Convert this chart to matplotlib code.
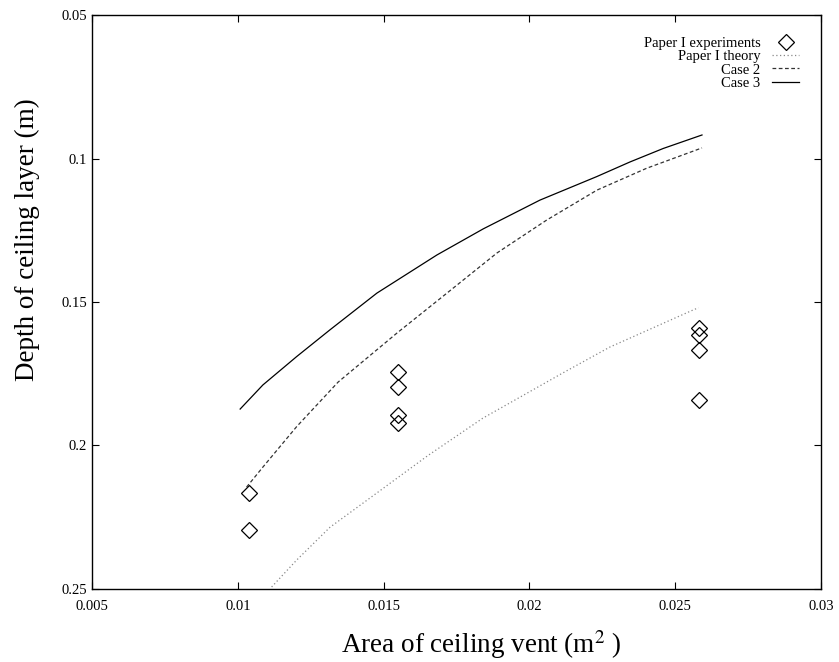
import matplotlib
matplotlib.use("Agg")
import matplotlib.pyplot as plt

# Paper I experiments (vent area, layer depth)
exp_area = [0.01039, 0.01039, 0.0155, 0.0155, 0.0155, 0.0155,
            0.0258, 0.0258, 0.0258, 0.0258]
exp_depth = [0.2166, 0.2294, 0.1743, 0.1795, 0.1894, 0.1920,
             0.1592, 0.1615, 0.1667, 0.1841]

# Paper I theory
theory_area = [0.01116, 0.01202, 0.01316, 0.01464, 0.01652, 0.0184,
               0.02115, 0.02276, 0.02561, 0.0258]
theory_depth = [0.2493, 0.2399, 0.2285, 0.2175, 0.2035, 0.1905,
                0.1747, 0.1657, 0.1528, 0.1520]

# Case 2
case2_area = [0.0103, 0.01087, 0.01202, 0.01344, 0.01546, 0.01716,
              0.01889, 0.0206, 0.02232, 0.02402, 0.02592]
case2_depth = [0.2145, 0.2074, 0.1934, 0.1779, 0.1608, 0.1470,
               0.1329, 0.1214, 0.1110, 0.1034, 0.0963]

# Case 3
case3_area = [0.01008, 0.01086, 0.01202, 0.01316, 0.01477, 0.01683,
              0.01842, 0.02036, 0.02231, 0.02345, 0.02459, 0.02592]
case3_depth = [0.1873, 0.1789, 0.1690, 0.1597, 0.1469, 0.1336,
               0.1245, 0.1145, 0.1063, 0.1012, 0.0965, 0.0918]

x_ticks = [0.005, 0.01, 0.015, 0.02, 0.025, 0.03]
x_labels = ["0.005", "0.01", "0.015", "0.02", "0.025", "0.03"]
y_ticks = [0.05, 0.1, 0.15, 0.2, 0.25]
y_labels = ["0.05", "0.1", "0.15", "0.2", "0.25"]

plt.rcParams['font.family'] = ['Liberation Serif', 'DejaVu Serif']
plt.rcParams['mathtext.fontset'] = 'stix'

fig = plt.figure(figsize=(8.39, 6.62), dpi=100)
ax = fig.add_axes([0.1097, 0.1103, 0.8688, 0.8670])

ax.plot(exp_area, exp_depth, linestyle='none', marker='D', markersize=8,
        markerfacecolor='none', markeredgecolor='black', markeredgewidth=0.9,
        label='Paper I experiments')
ax.plot(theory_area, theory_depth, linestyle=(0, (1, 2)), color='#888888',
        linewidth=0.9, label='Paper I theory')
ax.plot(case2_area, case2_depth, linestyle=(0, (3, 2)), color='#333333',
        linewidth=0.9, label='Case 2')
ax.plot(case3_area, case3_depth, linestyle='-', color='black',
        linewidth=0.9, label='Case 3')

ax.set_xlim(0.005, 0.03)
ax.set_ylim(0.25, 0.05)
ax.set_xticks(x_ticks)
ax.set_xticklabels(x_labels)
ax.set_yticks(y_ticks)
ax.set_yticklabels(y_labels)
ax.tick_params(direction='in', length=5, width=0.8, labelsize=10.5,
               top=True, right=True)
ax.tick_params(axis='x', pad=8)
for s in ax.spines.values():
    s.set_linewidth(1.0)

ax.set_xlabel("Area of ceiling vent (m$^2$ )", fontsize=19.5)
ax.set_ylabel("Depth of ceiling layer (m)", fontsize=19.5)
ax.xaxis.set_label_coords(0.534, -0.068)
ax.yaxis.set_label_coords(-0.071, 0.608)

ax.legend(loc='upper right', frameon=False, markerfirst=False, fontsize=10.5,
          handlelength=1.85, labelspacing=0.0, borderaxespad=1.1,
          handletextpad=0.8)

fig.savefig("out.png", dpi=100)
